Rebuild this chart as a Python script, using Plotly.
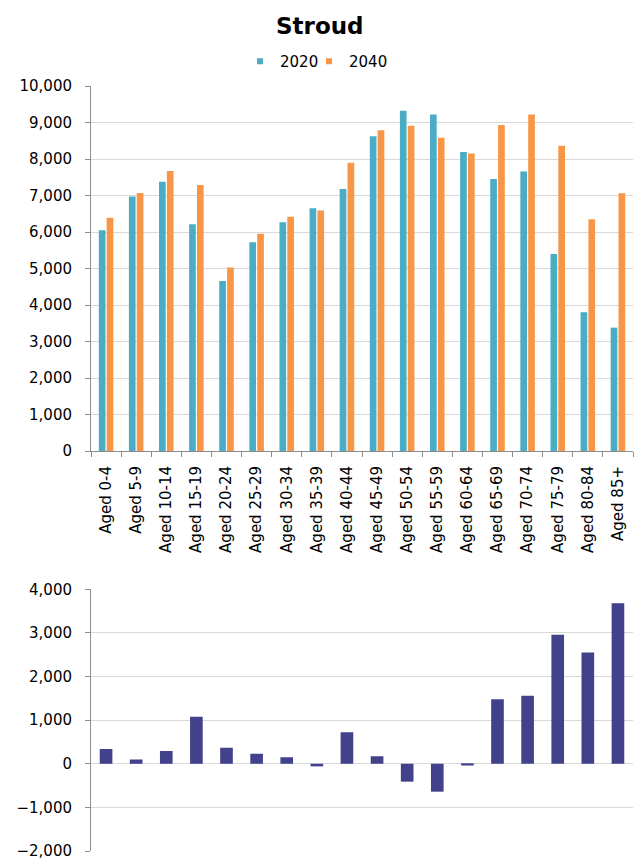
import plotly.graph_objects as go

# Population by age band, Stroud
age_groups = [
    "Aged 0-4", "Aged 5-9", "Aged 10-14", "Aged 15-19", "Aged 20-24",
    "Aged 25-29", "Aged 30-34", "Aged 35-39", "Aged 40-44", "Aged 45-49",
    "Aged 50-54", "Aged 55-59", "Aged 60-64", "Aged 65-69", "Aged 70-74",
    "Aged 75-79", "Aged 80-84", "Aged 85+",
]
pop_2020 = [6050, 6970, 7380, 6210, 4660, 5720, 6270, 6650, 7180,
            8620, 9320, 9220, 8190, 7450, 7660, 5400, 3800, 3380]
pop_2040 = [6390, 7070, 7670, 7290, 5030, 5950, 6420, 6590, 7900,
            8790, 8910, 8580, 8150, 8930, 9220, 8360, 6350, 7060]
# change between the two years
change = [b - a for a, b in zip(pop_2020, pop_2040)]

top_ticks = list(range(0, 10001, 1000))
bottom_ticks = list(range(-2000, 4001, 1000))

BLUE = "#4BACC6"
ORANGE = "#F79646"
NAVY = "#41418C"
GRID = "#D9D9D9"
AXIS = "#8C8C8C"
FONT = "DejaVu Sans"

fig = go.Figure()

fig.add_trace(go.Bar(x=age_groups, y=pop_2020, name="2020", marker=dict(color=BLUE, line=dict(width=0)),
                     xaxis="x", yaxis="y", showlegend=False))
fig.add_trace(go.Bar(x=age_groups, y=pop_2040, name="2040", marker=dict(color=ORANGE, line=dict(width=0)),
                     xaxis="x", yaxis="y", showlegend=False))
fig.add_trace(go.Bar(x=age_groups, y=change, name="Change", marker=dict(color=NAVY, line=dict(width=0)),
                     width=0.42, xaxis="x2", yaxis="y2", showlegend=False))

# legend keys: small squares, one legend box per year
for name, col, leg in (("2020", BLUE, "legend"), ("2040", ORANGE, "legend2")):
    fig.add_trace(go.Scatter(x=[None], y=[None], mode="markers", name=name,
                             marker=dict(symbol="square", size=6, color=col),
                             xaxis="x", yaxis="y", showlegend=True, legend=leg))

legend_style = dict(orientation="h", xanchor="left", y=1 - 61.5 / 864, yanchor="middle",
                    font=dict(family=FONT, size=15, color="#000000"),
                    itemwidth=30, bgcolor="rgba(0,0,0,0)", borderwidth=0)

x_dom = [91 / 640, 633 / 640]
fig.update_layout(
    width=640, height=864,
    template="none",
    paper_bgcolor="white", plot_bgcolor="white",
    margin=dict(l=0, r=0, t=0, b=0),
    font=dict(family=FONT, size=15, color="#000000"),
    barmode="group", bargap=0.478, bargroupgap=0.15,
    showlegend=True,
    legend=dict(x=240 / 640, **legend_style),
    legend2=dict(x=309 / 640, **legend_style),
    xaxis=dict(domain=x_dom, anchor="y", type="category", automargin=False,
               showline=True, linecolor=AXIS, linewidth=1,
               ticks="outside", tickson="boundaries", ticklen=5, tickcolor=AXIS,
               tickangle=-90, tickfont=dict(family=FONT, size=15, color="#000000"),
               ticklabelstandoff=8, showgrid=False, zeroline=False),
    yaxis=dict(domain=[1 - 451 / 864, 1 - 86 / 864], anchor="x", range=[0, 10000],
               tickvals=top_ticks, tickformat=",d", automargin=False,
               showline=True, linecolor=AXIS, linewidth=1,
               ticks="outside", ticklen=5, tickcolor=AXIS, ticklabelstandoff=10,
               showgrid=True, gridcolor=GRID, gridwidth=1, zeroline=False,
               tickfont=dict(family=FONT, size=15, color="#000000")),
    xaxis2=dict(domain=x_dom, anchor="y2", type="category", automargin=False,
                showline=False, ticks="", showticklabels=False, showgrid=False, zeroline=False),
    yaxis2=dict(domain=[1 - 851 / 864, 1 - 589.3 / 864], anchor="x2", range=[-2000, 4000],
                tickvals=bottom_ticks, tickformat=",d", automargin=False,
                showline=True, linecolor=AXIS, linewidth=1,
                ticks="outside", ticklen=5, tickcolor=AXIS, ticklabelstandoff=10,
                showgrid=True, gridcolor=GRID, gridwidth=1, zeroline=False,
                tickfont=dict(family=FONT, size=15, color="#000000")),
    annotations=[dict(text="<b>Stroud</b>", x=0.5, y=1 - 26 / 864, xref="paper", yref="paper",
                      xanchor="center", yanchor="middle", showarrow=False,
                      font=dict(family=FONT, size=23, color="#000000"))],
)

fig.write_html("out.html")
